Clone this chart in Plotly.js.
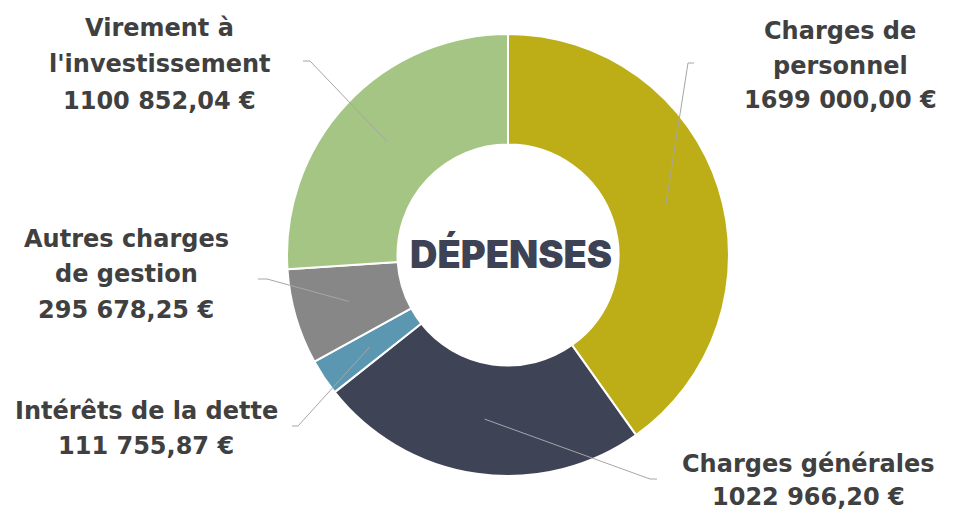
<!DOCTYPE html>
<html><head><meta charset="utf-8">
<script src="https://cdn.plot.ly/plotly-3.0.1.min.js"></script>
<style>html,body{margin:0;padding:0;background:#fff}</style>
</head><body><div id="chart" style="width:972px;height:515px"></div>
<script>
// ---- data ----
const categories = ["Charges de personnel","Charges générales","Intérêts de la dette","Autres charges de gestion","Virement à l'investissement"];
const labelLines = [["Charges de","personnel"],["Charges générales"],["Intérêts de la dette"],["Autres charges","de gestion"],["Virement à","l'investissement"]];
const values = [1699000.00, 1022966.20, 111755.87, 295678.25, 1100852.04];
const colors = ["#BDAE17","#3E4456","#5B97B1","#878787","#A5C584"];
const centerTitle = "DÉPENSES";

// ---- layout config (pixels) ----
const W = 972, H = 515;
const CX = 508, CY = 255, R = 221;
const LABEL_FONT = {family: "DejaVu Sans", size: 24, color: "#404040", weight: 700};
const LINE_R = 0.75; // fraction of outer radius where leader lines start
const labelPos = [
  {x: 840, baselines: [40, 75, 109], elbow: [688, 63], end: [694, 63]},
  {x: 808, baselines: [473, 506], elbow: [650, 479], end: [657, 479]},
  {x: 146, baselines: [420, 455], elbow: [298, 426], end: [292, 426]},
  {x: 126, baselines: [248, 283, 319], elbow: [267, 279], end: [258, 279]},
  {x: 159, baselines: [37, 73, 110], elbow: [310, 61], end: [303, 61]}
];

function fmt(v) {
  const s = v.toFixed(2).split(".");
  let i = s[0];
  if (i.length > 3) i = i.slice(0, i.length - 3) + " " + i.slice(-3);
  return i + "," + s[1] + " €";
}
const px = x => x / W, py = y => 1 - y / H;

const total = values.reduce((a, b) => a + b, 0);
let cum = 0;
const shapes = [], annotations = [];
values.forEach((v, k) => {
  const mid = (cum + v / 2) / total * 2 * Math.PI;
  cum += v;
  const sx = CX + LINE_R * R * Math.sin(mid), sy = CY - LINE_R * R * Math.cos(mid);
  const p = labelPos[k];
  const lc = {color: "#A6A6A6", width: 1};
  shapes.push({type: "line", xref: "paper", yref: "paper", x0: px(sx), y0: py(sy), x1: px(p.elbow[0]), y1: py(p.elbow[1]), line: lc});
  shapes.push({type: "line", xref: "paper", yref: "paper", x0: px(p.elbow[0]), y0: py(p.elbow[1]), x1: px(p.end[0]), y1: py(p.end[1]), line: lc});
  const lines = labelLines[k].concat([fmt(v)]);
  lines.forEach((t, j) => {
    annotations.push({text: t, xref: "paper", yref: "paper", x: px(p.x), y: py(p.baselines[j] - 0.36 * LABEL_FONT.size),
      xanchor: "center", yanchor: "middle", showarrow: false, font: LABEL_FONT});
  });
});
annotations.push({text: centerTitle, xref: "paper", yref: "paper", x: px(511), y: py(254), xanchor: "center", yanchor: "middle",
  showarrow: false, font: {family: "Inter", size: 38, color: "#3D4255", weight: 900}});

const trace = {
  type: "pie", labels: categories, values: values, sort: false, direction: "clockwise", rotation: 0,
  hole: 0.5, textinfo: "none", hoverinfo: "none",
  marker: {colors: colors, line: {color: "#ffffff", width: 2}},
  domain: {x: [px(CX - R), px(CX + R)], y: [py(CY + R), py(CY - R)]}
};
Plotly.newPlot("chart", [trace], {
  width: W, height: H, margin: {l: 0, r: 0, t: 0, b: 0}, showlegend: false,
  paper_bgcolor: "#fff", shapes: shapes, annotations: annotations
}, {staticPlot: true});
</script></body></html>
